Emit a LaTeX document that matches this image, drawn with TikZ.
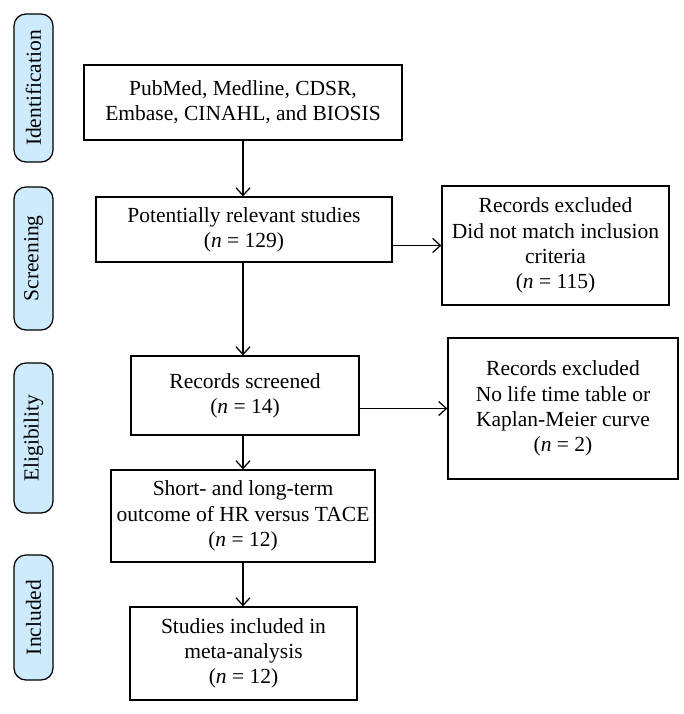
\documentclass[tikz,border=0pt]{standalone}
\usepackage{fontspec}
\setmainfont{Liberation Serif}
\usepackage{xcolor}
\usepackage{tikz}
\usetikzlibrary{arrows.meta}
\definecolor{stagefill}{HTML}{CDEBFC}

\begin{document}
\begin{tikzpicture}[
        x=0.025cm, y=-0.025cm,
        box/.style={
            rectangle,
            draw=black,
            line width=0.9pt,
            align=center,
            inner sep=2pt,
            font=\fontsize{15.3}{18}\selectfont
        },
        stage/.style={
            rectangle,
            draw=black,
            line width=0.9pt,
            fill=stagefill,
            rounded corners=0.3cm,
            rotate=90,
            minimum height=0.975cm,
            inner sep=0pt,
            font=\fontsize{15.3}{18}\selectfont
        },
        size/.style 2 args={
            minimum width=#1,
            minimum height=#2
        },
        arrow/.style={
            -{Straight Barb[length=5.5pt,width=10pt]},
            line width=0.9pt
        }
    ]
        \useasboundingbox (0,0) rectangle (683,714);

        % Stage labels
        \node[stage, minimum width=3.7cm] (sident) at (33.5, 88) {Identification};
        \node[stage, minimum width=3.575cm] (sscreen) at (33.5, 258.5) {Screening};
        \node[stage, minimum width=3.75cm] (selig) at (33.5, 438) {Eligibility};
        \node[stage, minimum width=3.125cm] (sincl) at (33.5, 617.5) {Included};

        % Main column
        \node[box, size={7.95cm}{1.875cm}] (db) at (243, 102.5)
            {PubMed, Medline, CDSR,\\Embase, CINAHL, and BIOSIS};
        \node[box, size={7.4cm}{1.625cm}] (pot) at (244, 229.5)
            {Potentially relevant studies\\(\textit{n} = 129)};
        \node[box, size={5.7cm}{1.975cm}] (scr) at (245, 395.5)
            {Records screened\\(\textit{n} = 14)};
        \node[box, size={6.6cm}{2.3cm}] (short) at (243, 516)
            {Short- and long-term\\outcome of HR versus TACE\\(\textit{n} = 12)};
        \node[box, size={5.675cm}{2.325cm}] (incl) at (243.5, 653.5)
            {Studies included in\\meta-analysis\\(\textit{n} = 12)};

        % Exclusions
        \node[box, size={5.675cm}{2.975cm}] (exc1) at (555.5, 245.5)
            {Records excluded\\Did not match inclusion\\criteria\\(\textit{n} = 115)};
        \node[box, size={5.75cm}{3.525cm}] (exc2) at (563, 408.5)
            {Records excluded\\No life time table or\\Kaplan-Meier curve\\(\textit{n} = 2)};

        \draw[arrow] (db) -- (db |- pot.north);
        \draw[arrow] (pot.south -| db) -- (db |- scr.north);
        \draw[arrow] (scr.south -| db) -- (db |- short.north);
        \draw[arrow] (short) -- (short |- incl.north);
        \draw[arrow] (pot.east |- exc1.west) -- (exc1.west);
        \draw[arrow] (scr.east |- exc2.west) -- (exc2.west);
    \end{tikzpicture}
\end{document}
